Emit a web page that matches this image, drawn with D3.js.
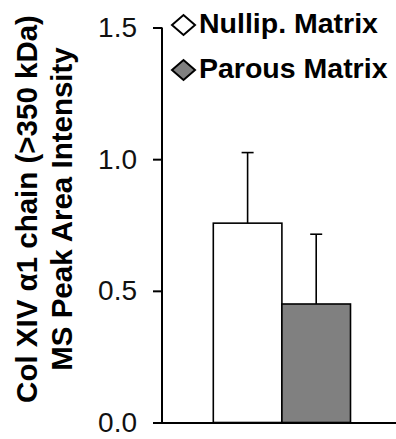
<!DOCTYPE html>
<html>
<head>
<meta charset="utf-8">
<script src="https://cdn.jsdelivr.net/npm/d3@7"></script>
<style>
  body { margin: 0; background: #fff; }
  text { font-family: "Liberation Sans", Arial, sans-serif; }
</style>
</head>
<body>
<svg width="396" height="439"></svg>
<script>
let svg = d3.select("svg");

// data
let series = ["Nullip. Matrix", "Parous Matrix"];
let means = [0.757, 0.45];
let errors = [0.268, 0.265];
let fills = ["#ffffff", "#808080"];
let yTicks = [0.0, 0.5, 1.0, 1.5];
let titleLines = ["Col XIV α1 chain (>350 kDa)", "MS Peak Area Intensity"];

let aux = {
  axisX: 162,
  axisY: 423,
  top: 27.5,
  right: 396,
};

let y = d3.scaleLinear().domain([0, 1.5]).range([422.5, aux.top]);
let x = d3.scaleBand().domain(series).range([213.3, 350.5]).padding(0);

// bars
svg.selectAll("rect.bar")
  .data(series)
  .join("rect")
  .attr("class", "bar")
  .attr("x", d => x(d))
  .attr("y", (d, i) => y(means[i]))
  .attr("width", x.bandwidth())
  .attr("height", (d, i) => y(0) - y(means[i]))
  .attr("fill", (d, i) => fills[i])
  .attr("stroke", "#000")
  .attr("stroke-width", 1.6);

// error bars (upper only)
let eb = svg.append("g").attr("stroke", "#000").attr("stroke-width", 1.6);
series.forEach((s, i) => {
  let cx = x(s) + x.bandwidth() / 2;
  eb.append("line")
    .attr("x1", cx).attr("x2", cx)
    .attr("y1", y(means[i])).attr("y2", y(means[i] + errors[i]));
  eb.append("line")
    .attr("x1", cx - 6).attr("x2", cx + 6)
    .attr("y1", y(means[i] + errors[i])).attr("y2", y(means[i] + errors[i]));
});

// y axis
let yAxis = svg.append("g")
  .attr("transform", `translate(${aux.axisX},0)`)
  .call(d3.axisLeft(y).tickValues(yTicks).tickFormat(d3.format(".1f")).tickSize(9).tickPadding(16));
yAxis.select(".domain").attr("stroke-width", 2).attr("d", `M0,${aux.top}V${aux.axisY}`);
yAxis.selectAll(".tick line").attr("stroke-width", 2);
yAxis.selectAll(".tick text")
  .attr("font-size", 28)
  .attr("fill", "#111")
  .attr("font-family", "Liberation Sans, Arial, sans-serif");

// x axis line
svg.append("line")
  .attr("x1", aux.axisX - 1).attr("x2", aux.right)
  .attr("y1", aux.axisY).attr("y2", aux.axisY)
  .attr("stroke", "#000").attr("stroke-width", 2);

// y title
let title = svg.append("text")
  .attr("transform", "translate(0,209) rotate(-90)")
  .attr("text-anchor", "middle")
  .attr("font-weight", "bold")
  .attr("font-size", 29.5);
titleLines.forEach((t, i) => {
  title.append("tspan").attr("x", 0).attr("y", 37 + i * 35).text(t);
});

// legend
let legend = svg.append("g");
series.forEach((s, i) => {
  let ly = 25 + i * 45;
  legend.append("path")
    .attr("d", `M172,${ly}L183.5,${ly - 10}L195,${ly}L183.5,${ly + 10}Z`)
    .attr("fill", fills[i])
    .attr("stroke", "#000")
    .attr("stroke-width", 2);
  legend.append("text")
    .attr("x", 199)
    .attr("y", ly + 7.5)
    .attr("font-weight", "bold")
    .attr("font-size", 28.5)
    .text(s);
});
</script>
</body>
</html>
